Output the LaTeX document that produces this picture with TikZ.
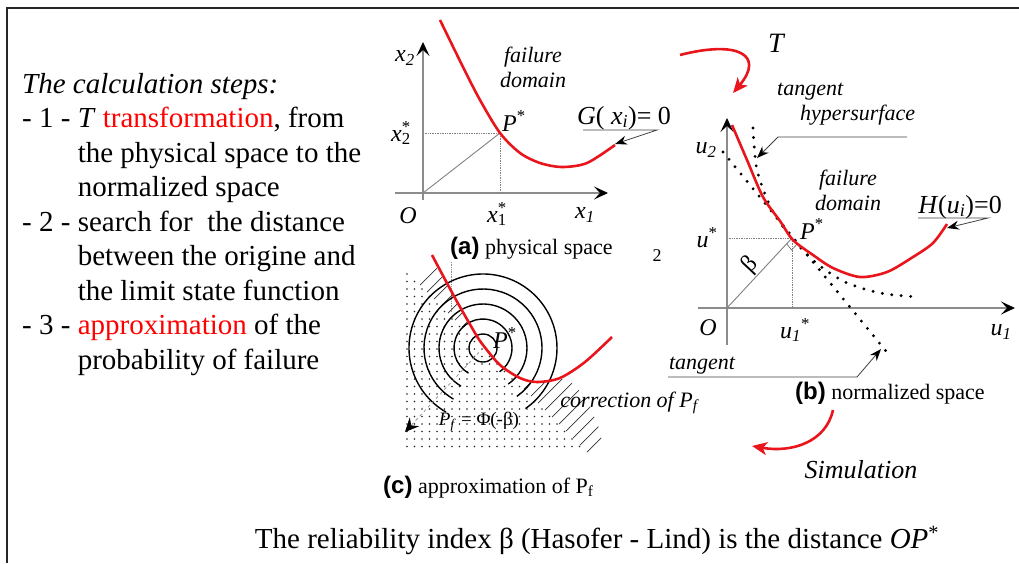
\documentclass[tikz,border=0pt]{standalone}
\usepackage{fontspec}
\setmainfont{Liberation Serif}
\newfontfamily\labelsans{Liberation Sans}
\usetikzlibrary{arrows.meta}

\definecolor{curvered}{RGB}{232,22,28}
\newcommand{\vsub}[2]{\textit{#1}\textsubscript{\textit{#2}}}

\tikzset{
  axis/.style={draw=black!45, line width=1.1pt, -{Stealth[length=14pt,width=13pt,inset=6pt,color=black]}},
  curve/.style={curvered, line width=2.6pt},
  guide/.style={black!50, densely dotted, line width=0.7pt},
  callout/.style={black!75, line width=0.8pt, -{Stealth[length=12pt,width=9pt,inset=4pt,color=black]}},
  redarrow/.style={curvered, line width=2.6pt, -{Stealth[length=15pt,width=13pt,inset=4pt]}},
  bigdots/.style={line width=3.2pt, line cap=round, dash pattern=on 0pt off 9.5pt},
  hatch/.style={black!80, line width=0.7pt},
  lab/.style={font=\fontsize{24}{26}\selectfont, inner sep=0pt},
  note/.style={font=\fontsize{22}{25}\selectfont\itshape, inner sep=0pt, align=center},
  caption/.style={font=\fontsize{22}{24}\selectfont, inner sep=0pt},
}

\begin{document}
\begin{tikzpicture}[x=1pt,y=-1pt]
\useasboundingbox (0,0) rectangle (1019,563);
\draw[line width=1.6pt, black!85] (7,563) -- (7,8) -- (1019,8);

% calculation steps
\node[anchor=base west, inner sep=0pt, font=\fontsize{29}{34.5}\selectfont] (steps) at (22,93) {%
\begin{tabular}[t]{@{}l@{\ }l@{}}
\multicolumn{2}{@{}l@{}}{\textit{The calculation steps:}}\\
- 1 - & \textit{T} \textcolor{red}{transformation}, from\\
 & the physical space to the\\
 & normalized space\\
- 2 - & search for\ \ the distance\\
 & between the origine and\\
 & the limit state function\\
- 3 - & \textcolor{red}{approximation} of the\\
 & probability of failure
\end{tabular}};

% (a) physical space
\coordinate (Oa) at (423,193);
\coordinate (Pa) at (500,133);
\draw[axis] (395,193) -- (608,193);
\draw[axis] (423,200) -- (423,42);
\draw[guide] (423,133) -- (Pa) -- (500,193);
\draw[black!50, line width=0.9pt] (Oa) -- (Pa);
\draw[curve] plot[smooth] coordinates {(440,20) (463,67) (480,100) (500,133) (520,153) (540,163) (562,167) (587,163) (615,145)};
\node[lab] (x2a) at (405,58) {\vsub{x}{2}};
\node[lab] (x2s) at (401,133) {\textit{x}\rlap{\textsuperscript{*}}\textsubscript{2}};
\node[lab] (Oal) at (408,216) {\textit{O}};
\node[lab] (x1s) at (497,214) {\textit{x}\rlap{\textsuperscript{*}}\textsubscript{1}};
\node[lab] (x1a) at (585,215) {\vsub{x}{1}};
\node[lab] (Pal) at (514,121) {\textit{P}\textsuperscript{*}};
\node[note] (faila) at (533,67) {failure\\domain};
\node[lab, font=\fontsize{26}{28}\selectfont] (Ga) at (624,118) {\textit{G}( \vsub{x}{i})= 0};
\coordinate (Gbend) at (657,130);
\coordinate (Gtip) at (615,144);
\draw[callout] (583,130) -- (Gbend) -- (Gtip);
\node[caption, anchor=west] (capa) at (450,248) {{\labelsans\bfseries\fontsize{24}{24}\selectfont(a)} physical space};
\node[caption, font=\fontsize{18}{20}\selectfont] (two) at (657,256) {2};

% transformation T
\coordinate (Tstart) at (680,55);
\coordinate (Tend) at (733,93);
\draw[redarrow] (Tstart) .. controls (738,40) and (765,55) .. (Tend);
\node[lab, font=\fontsize{28}{30}\selectfont\itshape] (Tl) at (776,43) {T};

% (b) normalized space
\coordinate (Ob) at (727,308);
\coordinate (Pb) at (792,238);
\draw[axis] (698,308) -- (1015,308);
\draw[axis] (727,345) -- (727,118);
\draw[guide] (727,238) -- (Pb) -- (792,308);
\draw[black!50, line width=0.9pt] (Ob) -- (Pb);
\draw[black!60, line width=0.6pt] (Pb) ++(-5.4,5.8) -- ++(5,6.2) -- ++(5.4,-5.8);
\draw[bigdots] (723,152) -- (890,356);
\draw[bigdots] plot[smooth] coordinates {(753,128) (757,170) (772,210) (792,238) (815,262) (845,282) (880,293) (918,297)};
\draw[curve] plot[smooth] coordinates {(732,125) (747,160) (763,197) (780,221) (793,240) (813,255) (833,268) (860,277) (887,272) (913,257) (933,243) (947,224)};
\node[lab] (u2b) at (706,150) {\vsub{u}{2}};
\node[lab] (usb) at (707,238) {\textit{u}\textsuperscript{*}};
\node[lab] (Obl) at (708,328) {\textit{O}};
\node[lab] (u1s) at (795,330) {\vsub{u}{1}\textsuperscript{*}};
\node[lab] (u1b) at (1001,332) {\vsub{u}{1}};
\node[lab] (Pbl) at (812,229) {\textit{P}\textsuperscript{*}};
\node[lab, rotate=47] (beta) at (750,265) {β};
\node[note] (failb) at (848,190) {failure\\domain};
\node[note, align=left, anchor=north west] (tanghyp) at (777,83) {tangent\\\hspace*{23pt}hypersurface};
\coordinate (Hbend) at (778,137);
\coordinate (Htip) at (757,158);
\draw[callout] (907,137) -- (Hbend) -- (Htip);
\node[lab, font=\fontsize{26}{28}\selectfont] (Hb) at (960,207) {\textit{H}(\vsub{u}{i})=0};
\coordinate (Hcbend) at (988,218);
\coordinate (Hctip) at (947,228);
\draw[callout] (918,218) -- (Hcbend) -- (Hctip);
\node[note] (tangl) at (702,366) {tangent};
\coordinate (tbend) at (857,377);
\coordinate (ttip) at (881,349);
\draw[callout] (668,377) -- (tbend) -- (ttip);
\node[caption, anchor=west] (capb) at (795,393) {{\labelsans\bfseries\fontsize{24}{24}\selectfont(b)} normalized space};

% simulation
\coordinate (Sstart) at (833,410);
\coordinate (Send) at (752,446);
\draw[redarrow] (Sstart) .. controls (826,442) and (792,453) .. (Send);
\node[lab, font=\fontsize{26}{28}\selectfont\itshape] (siml) at (861,470) {Simulation};

% (c) approximation of Pf
\coordinate (Pc) at (483,348);
\begin{scope}
\clip (404,266) -- (404,453) -- (590,453) -- cycle;
\foreach \x in {407,414.5,...,590}
  \foreach \y in {274,281.5,...,452}
    \fill[black!85] (\x,\y) circle (0.85pt);
\end{scope}
\foreach \x/\s in {420/24,427/22,434/19,441/16,448/13,455/10,462/7}
  \draw[hatch] (\x,\x-135) -- ++(\s*0.707,-\s*0.707);
\foreach \x/\s in {524/11,531/22,538/34,545/38,552/38,559/36,566/34,573/30,580/26,587/20}
  \draw[hatch] (\x,\x-135) -- ++(\s*0.707,-\s*0.707);
\draw[black!45, densely dotted, line width=0.7pt] (451,262) -- (451,312);
\draw[line width=1.4pt] (Pc) circle (14);
\foreach \r in {29,44,59,74}
  \draw[line width=1.4pt] (Pc) ++(120:\r) arc[start angle=120, end angle=415, radius=\r];
\coordinate (Ptip) at (405,432);
\draw[black!45, dashed, line width=0.7pt, -{Stealth[length=14pt,width=13pt,inset=5pt,color=black]}] (Pc) -- (Ptip);
\draw[curve] plot[smooth] coordinates {(432,255) (455,298) (475,333) (483,345) (500,365) (520,378) (537,382) (560,378) (585,362) (612,337)};
\node[lab] (Pcl) at (505,338) {\textit{P}\textsuperscript{*}};
\node[lab, font=\fontsize{19}{21}\selectfont] (pfl) at (479,422) {\vsub{P}{f} = Φ(-β)};
\node[note] (corr) at (629,403) {correction of \vsub{P}{f}};
\node[caption, anchor=west] (capc) at (383,487) {{\labelsans\bfseries\fontsize{24}{24}\selectfont(c)} approximation of P\textsubscript{f}};

% reliability index
\node[inner sep=0pt, font=\fontsize{29}{32}\selectfont] (relind) at (597,540) {The reliability index β (Hasofer - Lind) is the distance \textit{OP}\textsuperscript{*}};
\end{tikzpicture}
\end{document}
